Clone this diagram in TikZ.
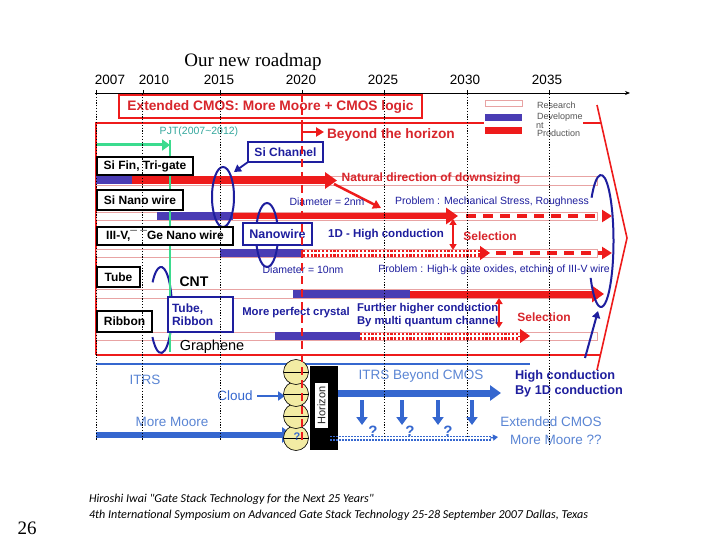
\documentclass[tikz,border=0pt]{standalone}
\usepackage{fontspec}
\setmainfont{Liberation Sans}
\newfontfamily\serifnm{Liberation Serif}
\newfontfamily\citefont{Carlito}
\usetikzlibrary{arrows.meta,calc}
\newcommand\fsz[1]{\fontsize{#1pt}{#1pt}\selectfont}
\definecolor{cred}{HTML}{EE1B1B}
\definecolor{tred}{HTML}{D8262C}
\definecolor{dblue}{HTML}{1E1E9E}
\definecolor{devblue}{HTML}{4A3CB4}
\definecolor{ibl}{HTML}{3567CF}
\definecolor{ltxt}{HTML}{5A85D4}
\definecolor{pjtg}{HTML}{3BDB8E}
\definecolor{pjtt}{HTML}{36A89E}
\definecolor{pinkl}{HTML}{E8A3A3}
\definecolor{cloudy}{HTML}{F3ECA4}
\definecolor{legtxt}{HTML}{555555}
\begin{document}
\begin{tikzpicture}[x=1pt,y=-1pt,
  every node/.style={inner sep=0pt,outer sep=0pt},
  yr/.style={font=\fsz{13.5}},
  lbox/.style={draw=black,line width=1.3pt,fill=white,font=\fsz{12}\bfseries},
  bbox/.style={draw=dblue,line width=1.4pt,fill=white,font=\fsz{12}\bfseries,text=dblue},
  research/.style={draw=pinkl,line width=0.7pt,fill=white},
  devbar/.style={fill=devblue},
  prodarrow/.style={draw=cred,line width=#1,-{Triangle[length=12pt,width=16pt]}},
  reddash/.style={draw=cred,line width=4pt,dash pattern=on 10pt off 7pt,-{Triangle[length=10pt,width=12pt]}},
  reddots/.style={draw=cred,line width=2.4pt,dash pattern=on 2.2pt off 1.6pt},
  redtip/.style={draw=cred,line width=1pt,-{Triangle[length=10pt,width=14pt]}},
  sel/.style={draw=cred,line width=1.8pt,{Triangle[length=6pt,width=7pt]}-{Triangle[length=6pt,width=7pt]}},
  yline/.style={draw=black,line width=0.9pt,dash pattern=on 1.2pt off 1.6pt},
  bell/.style={draw=dblue,line width=2pt},
  note/.style={font=\fsz{10.5},text=dblue},
  btxt/.style={font=\fsz{11.3}\bfseries,text=dblue},
  rtxt/.style={font=\fsz{12}\bfseries,text=tred},
  itxt/.style={font=\fsz{13.5},text=ltxt},
  iarrow/.style={draw=ibl,line width=#1,-{Triangle[length=11pt,width=15pt]}},
  bigline/.style={draw=cred,line width=1.6pt},
]
\fill[white] (0,0) rectangle (720,540);
\useasboundingbox (0,0) rectangle (720,540);

% title and time axis
\node[font=\serifnm\fsz{19}] (title) at (253,62) {Our new roadmap};
\coordinate (ax0) at (95,93);
\coordinate (ax1) at (630,93);
\draw[line width=0.8pt,-{Stealth[length=5pt,width=4pt]}] (ax0) -- (ax1);
\foreach \tx/\lx/\yl in {96/110/2007,143/154/2010,220/219/2015,302/301/2020,384/383/2025,467/465/2030,549/547/2035}{
  \node[yr] (y\yl) at (\lx,80) {\yl};
  \draw[line width=0.8pt] (\tx,90) -- (\tx,95);
}

% big block arrow outline
\coordinate (bTL) at (96,123);
\coordinate (bTR) at (601,123);
\coordinate (bBL) at (96,355);
\coordinate (bBR) at (600,355);
\coordinate (hTop) at (597,105);
\coordinate (hTip) at (627,238);
\coordinate (hBot) at (597,370);
\draw[bigline] (bBL) -- (bTL) -- (bTR);
\draw[bigline] (bBL) -- (bBR);
\draw[bigline] (hTop) -- (hTip) -- (hBot);

% research bars
\foreach \ya/\yb in {176/185,212/220,249/257,289/298,332/340}
  \draw[research] (96,\ya) rectangle (597,\yb);
% development bars
\fill[devblue] (96,176.5) rectangle (132,184.5);
\fill[devblue] (157,212) rectangle (233,220);
\fill[devblue] (220,249) rectangle (303,257);
\fill[devblue] (293,290) rectangle (410,298);
\fill[devblue] (275,332) rectangle (360,340);

% production rows
\coordinate (r1a) at (132,180.5); \coordinate (r1b) at (337,180.5);
\draw[prodarrow=8pt] (r1a) -- (r1b);
\coordinate (r2a) at (233,216); \coordinate (r2b) at (458,216);
\coordinate (r2c) at (466,216); \coordinate (r2d) at (612,216);
\draw[prodarrow=6.5pt] (r2a) -- (r2b);
\draw[reddash] (r2c) -- (r2d);
\draw[reddots] (303,250.8) -- (482,250.8);
\draw[reddots] (303,255.3) -- (482,255.3);
\coordinate (r3a) at (478,253); \coordinate (r3b) at (490,253);
\coordinate (r3c) at (496,253); \coordinate (r3d) at (612,253);
\draw[redtip] (r3a) -- (r3b);
\draw[reddash] (r3c) -- (r3d);
\coordinate (r4a) at (410,294); \coordinate (r4b) at (604,294);
\draw[prodarrow=7pt] (r4a) -- (r4b);
\draw[reddots] (360,333.8) -- (522,333.8);
\draw[reddots] (360,338.3) -- (522,338.3);
\coordinate (r5a) at (518,336); \coordinate (r5b) at (530,336);
\draw[redtip] (r5a) -- (r5b);

% selection arrows
\coordinate (s1a) at (453,219); \coordinate (s1b) at (453,250);
\draw[sel] (s1a) -- (s1b);
\coordinate (s2a) at (499,298); \coordinate (s2b) at (499,328);
\draw[sel] (s2a) -- (s2b);

% natural direction arrow
\coordinate (nd1) at (334,184); \coordinate (nd2) at (381,208);
\draw[cred,line width=2.5pt,-{Triangle[length=8pt,width=9pt]}] (nd1) -- (nd2);

% beyond the horizon L arrow
\coordinate (bh0) at (302,124); \coordinate (bh1) at (302,132); \coordinate (bh2) at (324,132);
\draw[cred,line width=2.5pt,-{Triangle[length=8pt,width=9pt]}] (bh0) -- (bh1) -- (bh2);

% legend
\fill[white] (484,98) rectangle (583,138);
\draw[draw=pinkl,line width=1pt,fill=white] (485,101) rectangle (522,107);
\fill[devblue] (485,114) rectangle (522,121);
\fill[cred] (485,127) rectangle (522,134);
\node[anchor=west,font=\fsz{9},text=legtxt] (lg1) at (537,105) {Research};
\node[anchor=west,font=\fsz{9},text=legtxt] (lg2) at (537,117) {Developme};
\node[anchor=west,font=\fsz{9},text=legtxt] (lg3) at (536,125.5) {nt};
\node[anchor=west,font=\fsz{9},text=legtxt] (lg4) at (537,133) {Production};

% blue ellipses
\draw[bell] (223,197) ellipse [x radius=11,y radius=30];
\draw[bell] (267,235) ellipse [x radius=11,y radius=32];
\draw[bell] (161,310) ++(-140:11 and 43) arc [start angle=-140,end angle=141,x radius=11,y radius=43];
\draw[bell] (601,241) ++(-139:12.5 and 66) arc [start angle=-139,end angle=146,x radius=12.5,y radius=66];

% PJT
\node[font=\fsz{10.5},text=pjtt] (pjt) at (199,132) {PJT(2007\textasciitilde2012)};
\coordinate (pj0) at (97,145); \coordinate (pj1) at (170,145);
\draw[pjtg,line width=3pt,-{Triangle[length=8pt,width=11pt]}] (pj0) -- (pj1);
\coordinate (pv0) at (170,140); \coordinate (pv1) at (170,352);
\draw[pjtg,line width=1.6pt] (pv0) -- (pv1);

% header box
\node[draw=cred,line width=2pt,fill=white,minimum width=303,minimum height=23,font=\fsz{13.75}\bfseries,text=tred] (ext) at (270.5,106.5) {Extended CMOS: More Moore + CMOS logic};

% left label boxes
\node[lbox,minimum width=96,minimum height=18] (sifin) at (145,166) {Si Fin, Tri-gate};
\node[lbox,minimum width=86,minimum height=20] (sinw) at (140,200) {Si Nano wire};
\node[lbox,minimum width=136,minimum height=18] (iiiv) at (165,236) {III-V,¯ ¯Ge Nano wire};
\node[lbox,minimum width=43,minimum height=20] (tube) at (118.5,277) {Tube};
\node[lbox,minimum width=55,minimum height=21] (ribbon) at (124.5,321.5) {Ribbon};
\node[bbox,text width=57pt,inner xsep=4pt,minimum height=35,align=left] (tr) at (200.5,314.5) {Tube,\\[1pt]Ribbon};
\node[bbox,minimum width=75,minimum height=20] (sich) at (285.5,152) {Si Channel};
\node[bbox,minimum width=69,minimum height=22,font=\fsz{12.5}\bfseries] (nw) at (277.5,234) {Nanowire};
\coordinate (sichA) at (234,172);
\draw[dblue,line width=1.8pt,-{Triangle[length=7pt,width=8pt]}] (sich.south west) -- (sichA);

% texts in the big arrow
\node[font=\fsz{13.7}\bfseries,text=tred,anchor=west] (beyond) at (327,135) {Beyond the horizon};
\node[font=\fsz{12}\bfseries,text=tred] (natural) at (431,178) {Natural direction of downsizing};
\node[note] (d2) at (327,202) {Diameter = 2nm};
\node[note] (p1) at (492,202) {Problem : Mechanical Stress, Roughness};
\node[font=\fsz{11.5}\bfseries,text=dblue] (oned) at (386,235) {1D - High conduction};
\node[rtxt] (sel1) at (490,236) {Selection};
\node[note] (d10) at (303,270) {Diameter = 10nm};
\node[note] (p2) at (494,270) {Problem : High-k gate oxides, etching of III-V wire};
\node[font=\fsz{14}\bfseries] (cnt) at (194,282) {CNT};
\node[btxt] (mpc) at (296,313) {More perfect crystal};
\node[btxt,anchor=west,align=left] (fhc) at (357,315) {Further higher conduction\\[2.5pt]By multi quantum channel};
\node[rtxt] (sel2) at (544,317) {Selection};
\node[font=\fsz{14.5}] (graph) at (212,347) {Graphene};

% arrow to big ellipse
\coordinate (he0) at (585,358); \coordinate (he1) at (598,311);
\draw[dblue,line width=2pt,-{Triangle[length=7pt,width=8pt]}] (he0) -- (he1);

% ITRS part
\coordinate (il0) at (96,364); \coordinate (il1) at (530,364);
\draw[ibl,line width=1.6pt] (il0) -- (il1);
\node[itxt] (itrs) at (145,380) {ITRS};
\node[font=\fsz{13.5},text=ibl] (cloudtxt) at (235,396) {Cloud};
\coordinate (cl0) at (257,396); \coordinate (cl1) at (285,396);
\draw[ibl,line width=2.5pt,-{Triangle[length=7pt,width=9pt]}] (cl0) -- (cl1);
\node[itxt] (mm) at (172,422) {More Moore};
\coordinate (mm0) at (96,435); \coordinate (mm1) at (293,435);
\draw[iarrow=6pt] (mm0) -- (mm1);

% horizon block and cloud
\fill[black] (310,366) rectangle (338,450);
\node[fill=white,minimum width=45,minimum height=13,rotate=90,font=\fsz{11},text=black!85] (horizon) at (321.5,405.5) {Horizon};
\foreach \cy in {438,416,394,372}{
  \filldraw[fill=cloudy,draw=black,line width=0.6pt] (296,\cy) circle[radius=12.5];
  \draw[line width=0.6pt] (283.5,\cy) -- (308.5,\cy);
}
\node[font=\fsz{11}\bfseries,text=ibl] (cq) at (297,437) {?};

\coordinate (ib0) at (338,393); \coordinate (ib1) at (501,393);
\draw[iarrow=7pt] (ib0) -- (ib1);
\node[itxt] (ibc) at (421,376) {ITRS Beyond CMOS};
\foreach \dx in {362,402,438,472}{
  \draw[ibl,line width=4pt,-{Triangle[length=8pt,width=11pt]}] (\dx,400) -- (\dx,425);
}
\draw[ibl,line width=1.4pt,dash pattern=on 1.5pt off 1.5pt] (330,436.3) -- (492,436.3);
\draw[ibl,line width=1.4pt,dash pattern=on 1.5pt off 1.5pt] (330,440) -- (492,440);
\coordinate (qd0) at (490,438); \coordinate (qd1) at (498,437);
\draw[ibl,line width=1.2pt,-{Triangle[length=5pt,width=6pt]}] (qd0) -- (qd1);
\foreach \qx/\qn in {373/a,410/b,448/c}{
  \node[font=\fsz{15}\bfseries,text=ibl] (q\qn) at (\qx,431) {?};
}
\node[font=\fsz{12.7}\bfseries,text=dblue,anchor=west,align=left] (hc) at (515,383.5) {High conduction\\[2pt]By 1D conduction};
\node[itxt] (ec) at (551,422) {Extended CMOS};
\node[itxt] (mm2) at (556,439.5) {More Moore ??};

% vertical year lines (on top)
\foreach \vx/\ve in {96/440,142/440,220/440,384/436,467/436,549/445}
  \draw[yline] (\vx,94) -- (\vx,\ve);
\coordinate (v20a) at (302,94); \coordinate (v20b) at (302,440);
\draw[cred,line width=1.8pt,dash pattern=on 8pt off 5pt] (v20a) -- (v20b);

% footer
\node[font=\serifnm\fsz{19}] (pg) at (27,528) {26};
\node[anchor=west,font=\citefont\itshape\fsz{12.1}] (cite1) at (89,499) {Hiroshi Iwai "Gate Stack Technology for the Next 25 Years"};
\node[anchor=west,font=\citefont\itshape\fsz{12.1}] (cite2) at (89,515.5) {4th International Symposium on Advanced Gate Stack Technology 25-28 September 2007 Dallas, Texas};
\end{tikzpicture}
\end{document}
